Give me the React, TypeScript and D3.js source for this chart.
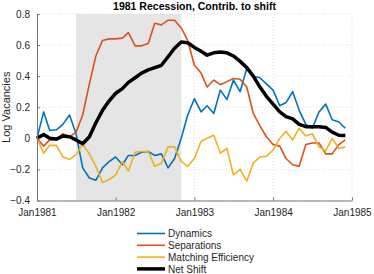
import React, { useRef, useEffect } from 'react';
import * as d3 from 'd3';

// monthly observations, Jan 1981 .. Dec 1984
const startMonth = new Date(1981, 0, 1);
const nMonths = 48;

const dynamics = [0, 0.17, 0.05, 0.055, 0.09, 0.15, 0.03, -0.19, -0.255, -0.27, -0.19, -0.15, -0.12, -0.17, -0.11, -0.11, -0.09, -0.085, -0.11, -0.1, -0.19, -0.13, 0.0, 0.15, 0.255, 0.17, 0.21, 0.16, 0.31, 0.25, 0.375, 0.3, 0.45, 0.4, 0.39, 0.35, 0.31, 0.21, 0.23, 0.3, 0.18, 0.09, 0.065, 0.17, 0.22, 0.12, 0.105, 0.065];
const separations = [0, -0.05, -0.01, -0.01, 0.03, 0.01, 0.04, 0.15, 0.35, 0.53, 0.63, 0.64, 0.64, 0.645, 0.68, 0.595, 0.595, 0.61, 0.74, 0.73, 0.76, 0.76, 0.71, 0.63, 0.47, 0.42, 0.33, 0.375, 0.345, 0.365, 0.385, 0.38, 0.33, 0.16, 0.08, 0.01, -0.04, -0.05, -0.13, -0.17, -0.18, -0.04, -0.03, -0.03, -0.1, -0.1, -0.04, -0.01];
const matching = [0, -0.096, -0.045, -0.045, -0.12, -0.135, -0.105, -0.04, -0.1, -0.18, -0.285, -0.265, -0.235, -0.15, -0.21, -0.09, -0.085, -0.085, -0.18, -0.16, -0.055, -0.055, -0.15, -0.18, -0.13, -0.02, 0.0, 0.02, -0.095, -0.065, -0.235, -0.2, -0.275, -0.16, -0.12, -0.115, -0.075, 0.0, 0.045, -0.01, 0.065, 0.015, 0.03, -0.055, -0.08, 0.0, -0.065, -0.055];
const netShift = [0, 0.025, 0.0, -0.005, 0.015, 0.01, -0.01, -0.035, 0.01, 0.1, 0.18, 0.24, 0.29, 0.32, 0.36, 0.39, 0.42, 0.44, 0.455, 0.47, 0.525, 0.58, 0.62, 0.615, 0.585, 0.56, 0.535, 0.55, 0.555, 0.55, 0.53, 0.495, 0.455, 0.4, 0.33, 0.27, 0.22, 0.17, 0.14, 0.125, 0.09, 0.075, 0.075, 0.075, 0.07, 0.04, 0.02, 0.018];

const seriesNames = ['Dynamics', 'Separations', 'Matching Efficiency', 'Net Shift'];
const seriesColors = ['#0072BD', '#D95319', '#EDB120', '#000000'];

const recessionStart = new Date(1981, 6, 1);
const recessionEnd = new Date(1982, 10, 1);

const yTicks = [-0.4, -0.2, 0, 0.2, 0.4, 0.6, 0.8];
const xTickYears = [1981, 1982, 1983, 1984, 1985];

const FONT = '"Liberation Sans", Arial, Helvetica, sans-serif';

const App = () => {
    const svgRef = useRef();

    useEffect(() => {
        const width = 374;
        const height = 274;
        const margin = { top: 14, right: 22, bottom: 73.5, left: 37 };

        const svg = d3.select(svgRef.current);
        svg.selectAll('*').remove();

        const dates = d3.range(nMonths).map(i => d3.timeMonth.offset(startMonth, i));
        const allSeries = [dynamics, separations, matching, netShift];

        const x = d3.scaleTime()
            .domain([new Date(1981, 0, 1), new Date(1985, 0, 1)])
            .range([margin.left, width - margin.right]);
        const y = d3.scaleLinear()
            .domain([-0.4, 0.8])
            .range([height - margin.bottom, margin.top]);

        const xTicks = xTickYears.map(yr => new Date(yr, 0, 1));

        // grid
        const grid = svg.append('g')
            .attr('stroke', '#d4d4d4')
            .attr('stroke-width', 0.8)
            .attr('stroke-dasharray', '1 2');
        grid.selectAll('.gy')
            .data(yTicks)
            .enter()
            .append('line')
            .attr('x1', margin.left)
            .attr('x2', width - margin.right)
            .attr('y1', d => y(d))
            .attr('y2', d => y(d));
        grid.selectAll('.gx')
            .data(xTicks)
            .enter()
            .append('line')
            .attr('x1', d => x(d))
            .attr('x2', d => x(d))
            .attr('y1', margin.top)
            .attr('y2', height - margin.bottom);

        // recession shading
        svg.append('rect')
            .attr('x', x(recessionStart))
            .attr('y', margin.top)
            .attr('width', x(recessionEnd) - x(recessionStart))
            .attr('height', height - margin.bottom - margin.top)
            .attr('fill', '#e5e5e5');

        // lines
        allSeries.forEach((vals, k) => {
            const line = d3.line()
                .x((d, i) => x(dates[i]))
                .y(d => y(d));
            svg.append('path')
                .datum(vals)
                .attr('fill', 'none')
                .attr('stroke', seriesColors[k])
                .attr('stroke-width', k === 3 ? 3.5 : 1.6)
                .attr('stroke-linejoin', 'round')
                .attr('d', line);
        });

        // axes
        const xAxis = d3.axisBottom(x)
            .tickValues(xTicks)
            .tickFormat(d3.timeFormat('%b%Y'))
            .tickSizeInner(-3)
            .tickSizeOuter(0)
            .tickPadding(8);
        const yAxis = d3.axisLeft(y)
            .tickValues(yTicks)
            .tickFormat(d => (d === 0 ? '0' : d3.format('.1f')(d)))
            .tickSizeInner(-3)
            .tickSizeOuter(0)
            .tickPadding(7);

        const gx = svg.append('g')
            .attr('transform', `translate(0,${height - margin.bottom})`)
            .call(xAxis);
        const gy = svg.append('g')
            .attr('transform', `translate(${margin.left},0)`)
            .call(yAxis);

        [gx, gy].forEach(g => {
            g.select('.domain').attr('stroke', '#777').attr('stroke-width', 1);
            g.selectAll('.tick line').attr('stroke', '#777');
            g.selectAll('text')
                .style('font-family', FONT)
                .style('font-size', '10px')
                .attr('fill', '#262626');
        });

        // title and label
        svg.append('text')
            .attr('x', (margin.left + width - margin.right) / 2)
            .attr('y', 10)
            .attr('text-anchor', 'middle')
            .style('font-family', FONT)
            .style('font-size', '10.5px')
            .style('font-weight', 'bold')
            .attr('fill', '#000')
            .text('1981 Recession, Contrib. to shift');

        svg.append('text')
            .attr('transform', `translate(10,${(margin.top + height - margin.bottom) / 2}) rotate(-90)`)
            .attr('text-anchor', 'middle')
            .style('font-family', FONT)
            .style('font-size', '11px')
            .attr('fill', '#262626')
            .text('Log Vacancies');

        // legend
        const legend = svg.append('g');
        seriesNames.forEach((name, k) => {
            const ly = 233.5 + k * 11.8;
            legend.append('line')
                .attr('x1', 137)
                .attr('x2', 165)
                .attr('y1', ly)
                .attr('y2', ly)
                .attr('stroke', seriesColors[k])
                .attr('stroke-width', k === 3 ? 3.5 : 1.6);
            legend.append('text')
                .attr('x', 168)
                .attr('y', ly + 3.6)
                .style('font-family', FONT)
                .style('font-size', '10px')
                .attr('fill', '#262626')
                .text(name);
        });
    }, []);

    return (
        <div style={{ position: 'fixed', left: 0, top: 0, width: 374, height: 274, background: '#fff' }}>
            <svg ref={svgRef} width={374} height={274} style={{ display: 'block' }}></svg>
        </div>
    );
};

export default App;
